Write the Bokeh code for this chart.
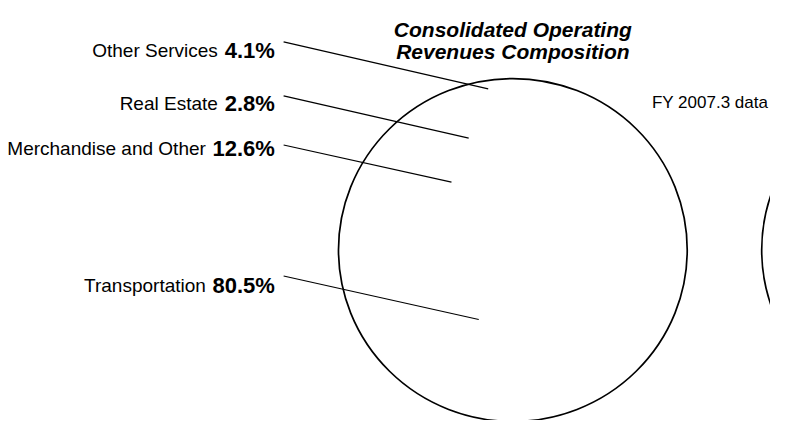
import numpy as np
from bokeh.plotting import figure
from bokeh.models import Range1d, ColumnDataSource
from bokeh.core.properties import value
from bokeh.embed import file_html
from bokeh.resources import INLINE

# ---------------- data ----------------
categories = ["Other Services", "Real Estate", "Merchandise and Other", "Transportation"]
shares = [4.1, 2.8, 12.6, 80.5]
title_lines = ["Consolidated Operating", "Revenues Composition"]
note_text = "FY 2007.3 data"

# ---------------- layout (pixel-like data units, y downward) ----------------
W, H = 770, 420
PIE_X, PIE_Y, PIE_R = 523, 259, 178
NEXT_PIE_X = 955               # second (cut-off) pie to the right
label_baselines = [52, 107, 154, 296]
pct_right = 280
gap = 8
leader_x0 = 289
leader_y0 = [43, 99, 150, 286]
leader_t = [0.58, 0.64, 0.37, 0.29]    # position inside each slice (fraction of slice span)
leader_rf = [0.95, 0.70, 0.53, 0.45]   # fraction of radius
FONT = "Liberation Sans"
LABEL_SIZE = 19
PCT_SIZE = 22

# whole reference canvas (786 x 436) squeezed into the 770 x 420 figure
X0, X1 = 0, 786
Y0, Y1 = 0, 436
p = figure(width=W, height=H, output_backend="svg", toolbar_location=None,
           x_range=Range1d(X0, X1), y_range=Range1d(Y1, Y0),
           min_border=0, outline_line_color=None)
p.axis.visible = False
p.grid.visible = False
p.background_fill_color = "white"

# slices
vals = np.array(shares, dtype=float)
frac = vals / vals.sum()
start = np.cumsum(frac) - frac
end = np.cumsum(frac)
p.wedge(x=PIE_X, y=PIE_Y, radius=PIE_R,
        start_angle=list(np.pi / 2 + start * 2 * np.pi),
        end_angle=list(np.pi / 2 + end * 2 * np.pi),
        fill_color="white", line_color=None)
p.ellipse(x=[PIE_X], y=[PIE_Y], width=2 * PIE_R, height=2 * PIE_R, fill_color=None,
          line_color="black", line_width=1.7)
p.ellipse(x=[NEXT_PIE_X], y=[PIE_Y], width=2 * PIE_R, height=2 * PIE_R, fill_color=None,
          line_color="black", line_width=1.7)

# leader lines
theta = (start + np.array(leader_t) * frac) * 2 * np.pi
ex = PIE_X - np.array(leader_rf) * PIE_R * np.sin(theta)
ey = PIE_Y - np.array(leader_rf) * PIE_R * np.cos(theta)
p.segment(x0=[leader_x0] * len(categories), y0=leader_y0, x1=list(ex), y1=list(ey),
          line_color="black", line_width=1.2)

# labels
pct_labels = [f"{v}%" for v in shares]
cw = {"%": 0.889, ".": 0.278}
pct_w = [PCT_SIZE * sum(cw.get(c, 0.556) for c in s) for s in pct_labels]
src = ColumnDataSource(dict(
    cat=categories, pct=pct_labels, y=label_baselines,
    xp=[pct_right] * len(categories),
    xl=[pct_right - w - gap for w in pct_w]))
p.text(x="xl", y="y", text="cat", source=src, text_font=value(FONT),
       text_font_size=f"{LABEL_SIZE}px", text_align="right",
       text_baseline="alphabetic", text_color="black")
p.text(x="xp", y="y", text="pct", source=src, text_font=value(FONT),
       text_font_size=f"{PCT_SIZE}px", text_font_style="bold", text_align="right",
       text_baseline="alphabetic", text_color="black")

# title
p.text(x=[PIE_X, PIE_X], y=[30, 53], text=title_lines, text_font=value(FONT),
       text_font_size="21px", text_font_style="bold italic", text_align="center",
       text_baseline="alphabetic", text_color="black")

# note
p.text(x=[665], y=[106], text=[note_text], text_font=value(FONT),
       text_font_size="17px", text_align="left", text_baseline="alphabetic",
       text_color="black")

open("out.html", "w").write(file_html(p, INLINE))
